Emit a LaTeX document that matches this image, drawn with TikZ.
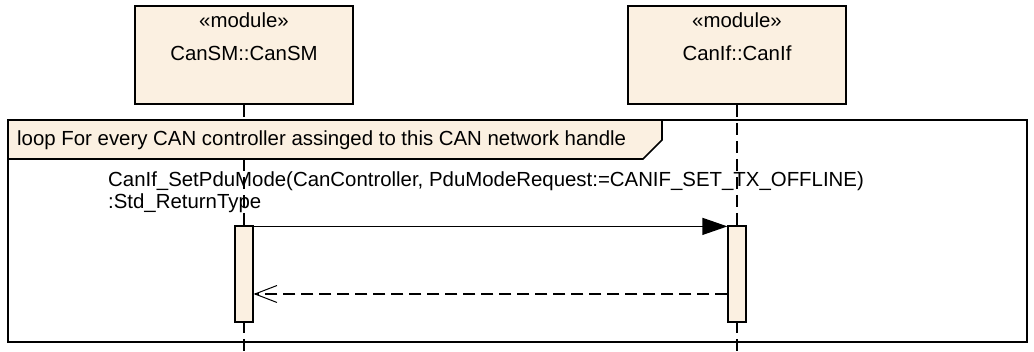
\documentclass[tikz,border=0pt]{standalone}
\usepackage{fontspec}
\setmainfont{Liberation Sans}
\usetikzlibrary{arrows.meta}
\definecolor{umlfill}{RGB}{251,240,225}
\tikzset{
  modbox/.style={draw=black, line width=1.6pt, fill=umlfill, minimum width=218pt, minimum height=98pt, inner sep=0pt},
  act/.style={draw=black, line width=1.2pt, fill=umlfill, minimum width=18pt, minimum height=96pt, inner sep=0pt},
  lifeline/.style={draw=black, line width=1.2pt, dash pattern=on 12pt off 6pt},
  frameline/.style={draw=black, line width=1.6pt},
  txt/.style={inner sep=0pt, font=\fontsize{20.4}{24}\selectfont},
  call/.style={draw=black, line width=1.2pt, -{Triangle[length=25pt,width=17pt]}},
  reply/.style={draw=black, line width=1.2pt, dash pattern=on 12pt off 6pt, -{Straight Barb[length=22pt,width=17pt,line width=1pt]}}
}
\begin{document}
\begin{tikzpicture}[x=1pt,y=-1pt]
\useasboundingbox (0,0) rectangle (1034,352);

% lifeline heads
\node[modbox] (sm) at (244,55) {};
\node[modbox] (cif) at (737,55) {};
\node[txt] (smSt) at (244,20) {«module»};
\node[txt] (smNm) at (244,53) {CanSM::CanSM};
\node[txt] (cifSt) at (737,20) {«module»};
\node[txt] (cifNm) at (737,53) {CanIf::CanIf};

% lifelines
\coordinate (smEnd) at (244,352);
\coordinate (cifEnd) at (737,352);
\draw[lifeline] (sm.south) -- (smEnd);
\draw[lifeline] (cif.south) -- (cifEnd);

% combined fragment
\draw[frameline] (8,120) rectangle (1027,342);
\draw[frameline, fill=umlfill] (8,120) -- (662,120) -- (662,140) -- (643,159) -- (8,159) -- cycle;
\node[txt, anchor=west] (loopLbl) at (17,140) {loop For every CAN controller assinged to this CAN network handle};

% message label
\node[txt, anchor=west] (msg1) at (108,181) {CanIf\_SetPduMode(CanController, PduModeRequest:=CANIF\_SET\_TX\_OFFLINE)};
\node[txt, anchor=west] (msg2) at (108,203) {:Std\_ReturnType};

% activations
\node[act] (smAct) at (244,274) {};
\node[act] (cifAct) at (737,274) {};

% messages
\draw[call] ([yshift=-1pt]smAct.north east) -- ([yshift=-1pt]cifAct.north west);
\draw[reply] (cifAct.west |- 0,294) -- (smAct.east |- 0,294);
\end{tikzpicture}
\end{document}
